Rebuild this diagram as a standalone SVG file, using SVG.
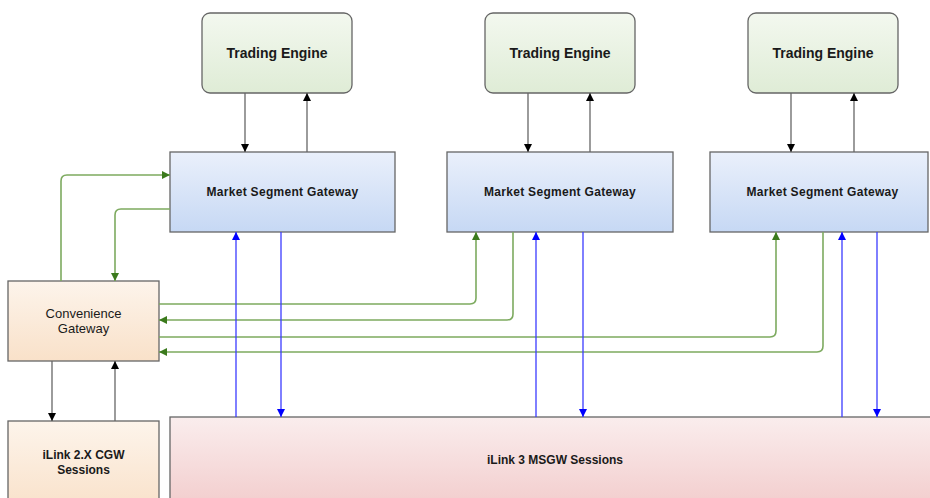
<svg xmlns="http://www.w3.org/2000/svg" width="930" height="498" viewBox="0 0 930 498">
<defs>
<linearGradient id="gTE" x1="0" y1="0" x2="0" y2="1"><stop offset="0" stop-color="#f3f8ef"/><stop offset="1" stop-color="#dfecd6"/></linearGradient>
<linearGradient id="gMSG" x1="0" y1="0" x2="0" y2="1"><stop offset="0" stop-color="#eaf0fb"/><stop offset="1" stop-color="#c6d8f4"/></linearGradient>
<linearGradient id="gCG" x1="0" y1="0" x2="0" y2="1"><stop offset="0" stop-color="#fdf4eb"/><stop offset="1" stop-color="#f9e1c9"/></linearGradient>
<linearGradient id="gIL" x1="0" y1="0" x2="0" y2="1"><stop offset="0" stop-color="#faeded"/><stop offset="1" stop-color="#f2cbcb"/></linearGradient>
<marker id="aK" markerUnits="userSpaceOnUse" markerWidth="10" markerHeight="10" refX="8" refY="4" orient="auto"><path d="M0,0 L8,4 L0,8 z" fill="#000"/></marker>
<marker id="aG" markerUnits="userSpaceOnUse" markerWidth="10" markerHeight="10" refX="8" refY="4" orient="auto"><path d="M0,0 L8,4 L0,8 z" fill="#3b7a1c"/></marker>
<marker id="aB" markerUnits="userSpaceOnUse" markerWidth="10" markerHeight="10" refX="8" refY="4" orient="auto"><path d="M0,0 L8,4 L0,8 z" fill="#0000ff"/></marker>
</defs>
<style>
.box{stroke:#666;stroke-width:1.3}
.t{font-family:"Liberation Sans",Arial,sans-serif;fill:#1a1a1a;text-anchor:middle}
.te{font-size:14px;font-weight:bold}
.msg{font-size:12px;font-weight:bold;letter-spacing:0.3px}
.cg{font-size:13px}
.il{font-size:12px;font-weight:bold}
.k{fill:none;stroke:#666;stroke-width:1.3;marker-end:url(#aK)}
.g{fill:none;stroke:#7daa5f;stroke-width:1.6;marker-end:url(#aG)}
.b{fill:none;stroke:#3b3bff;stroke-width:1.3;marker-end:url(#aB)}
</style>
<rect width="930" height="498" fill="#fff"/>
<g id="te1"><rect class="box" x="202" y="13" width="150" height="80" rx="8" fill="url(#gTE)"/><text class="t te" x="277" y="58">Trading Engine</text></g>
<g id="te2"><rect class="box" x="485" y="13" width="150" height="80" rx="8" fill="url(#gTE)"/><text class="t te" x="560" y="58">Trading Engine</text></g>
<g id="te3"><rect class="box" x="748" y="13" width="150" height="80" rx="8" fill="url(#gTE)"/><text class="t te" x="823" y="58">Trading Engine</text></g>
<g id="msg1"><rect class="box" x="170" y="152" width="225" height="80" fill="url(#gMSG)"/><text class="t msg" x="282.5" y="196">Market Segment Gateway</text></g>
<g id="msg2"><rect class="box" x="447" y="152" width="226" height="80" fill="url(#gMSG)"/><text class="t msg" x="560" y="196">Market Segment Gateway</text></g>
<g id="msg3"><rect class="box" x="710" y="152" width="218" height="80" fill="url(#gMSG)"/><text class="t msg" x="822.5" y="196">Market Segment Gateway</text></g>
<g id="cg"><rect class="box" x="8" y="281" width="151" height="80" fill="url(#gCG)"/><text class="t cg" x="83.5" y="318">Convenience</text><text class="t cg" x="83.5" y="333">Gateway</text></g>
<g id="il2"><rect class="box" x="8" y="421" width="151" height="90" fill="url(#gCG)"/><text class="t il" x="83.5" y="459">iLink 2.X CGW</text><text class="t il" x="83.5" y="474">Sessions</text></g>
<g id="il3"><rect class="box" x="170" y="417" width="765" height="95" fill="url(#gIL)"/><text class="t il" x="555" y="464">iLink 3 MSGW Sessions</text></g>
<g id="connectors">
<path class="k" d="M245,93 V152"/><path class="k" d="M307,152 V93"/>
<path class="k" d="M528,93 V152"/><path class="k" d="M590,152 V93"/>
<path class="k" d="M791,93 V152"/><path class="k" d="M854,152 V93"/>
<path class="k" d="M52,361 V421"/><path class="k" d="M115,421 V361"/>
<path class="g" d="M61,281 V181 Q61,175 67,175 H170"/>
<path class="g" d="M170,209 H121 Q115,209 115,215 V281"/>
<path class="g" d="M159,304 H470 Q476,304 476,298 V232"/>
<path class="g" d="M513,232 V314 Q513,320 507,320 H159"/>
<path class="g" d="M159,337 H770 Q776,337 776,331 V232"/>
<path class="g" d="M823,232 V346 Q823,352 817,352 H159"/>
<path class="b" d="M236,417 V232"/><path class="b" d="M281,232 V417"/>
<path class="b" d="M536,417 V232"/><path class="b" d="M583,232 V417"/>
<path class="b" d="M842,417 V232"/><path class="b" d="M877,232 V417"/>
</g>
</svg>
